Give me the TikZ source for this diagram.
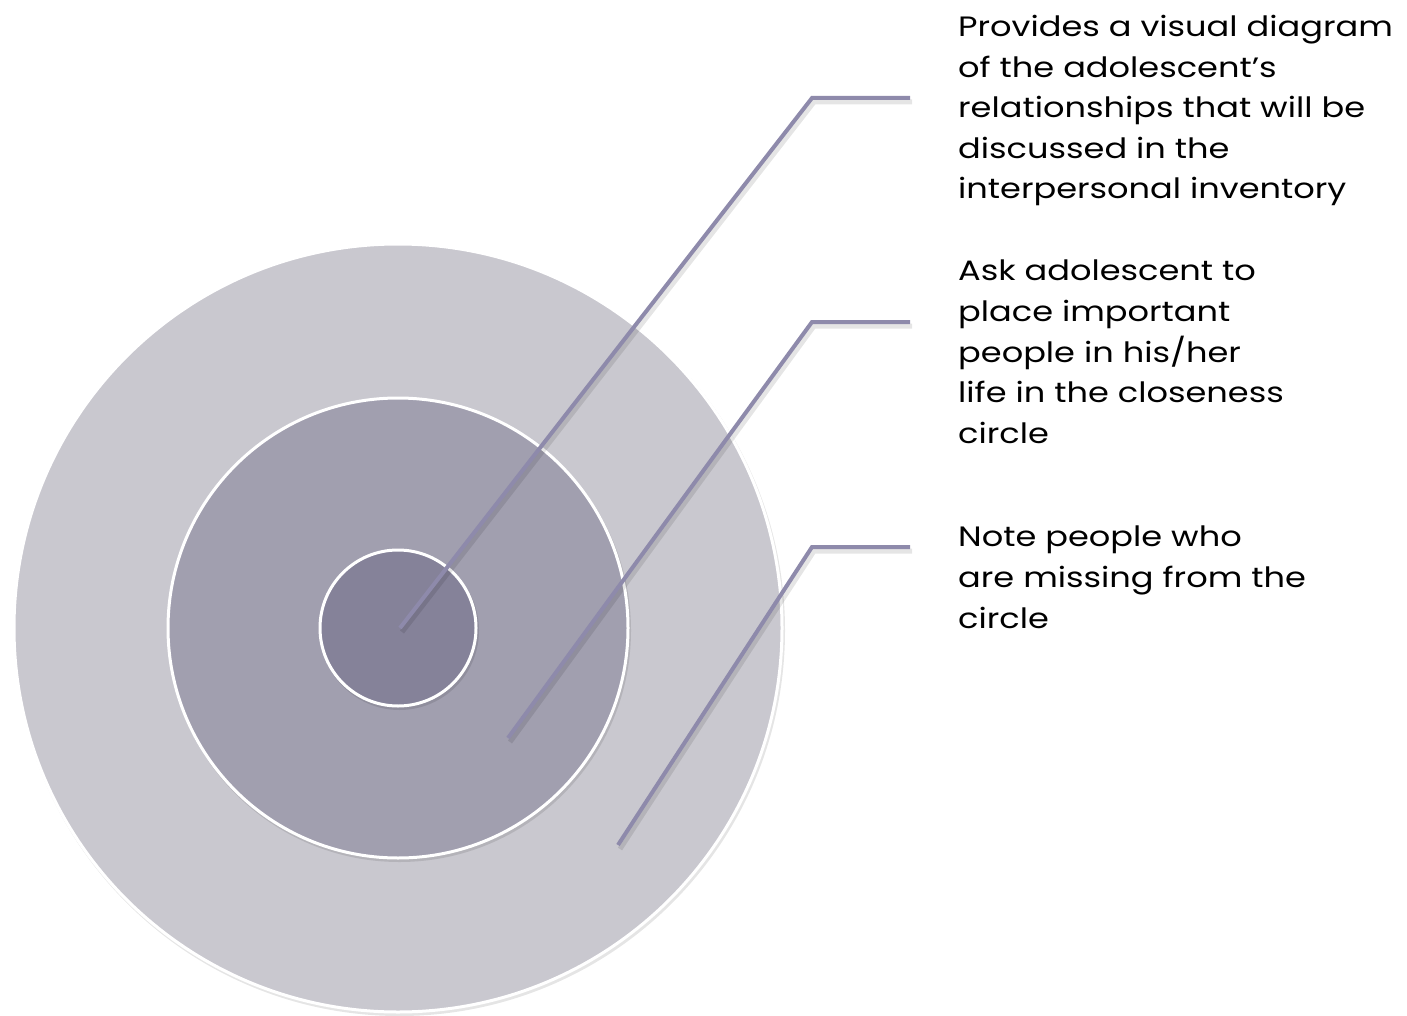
\documentclass[tikz,border=0pt]{standalone}
\usepackage{fontspec}
\setmainfont{Poppins}[FakeStretch=1.2]
\begin{document}
\begin{tikzpicture}[x=1pt,y=-1pt,
  ring/.style={circle, draw=white, line width=3pt, inner sep=0pt},
  ringshadow/.style={circle, fill=black, opacity=0.10, inner sep=0pt},
  leader/.style={draw=leadercol, line width=4pt, line cap=butt, line join=miter},
  leadershadow/.style={draw=black, opacity=0.10, line width=5pt},
  note/.style={anchor=north west, inner sep=0pt, align=left, font=\fontsize{28}{40.6}\selectfont, text=black}
]
\definecolor{outercol}{HTML}{C9C8CF}
\definecolor{midcol}{HTML}{A19FAF}
\definecolor{innercol}{HTML}{858299}
\definecolor{leadercol}{HTML}{8E8AAB}
\useasboundingbox (0,0) rectangle (1407,1016);
% shadows
\node[ringshadow, minimum size=771pt] at (399.5,630.5) {};
\node[ring, fill=outercol, minimum size=768pt] (outer) at (398,628) {};
\node[ringshadow, minimum size=463pt] at (399.5,630.5) {};
\node[ring, fill=midcol, minimum size=460pt] (mid) at (398,628) {};
\node[ringshadow, minimum size=159pt] at (399.5,630.5) {};
\node[ring, fill=innercol, minimum size=156pt] (inner) at (398,628) {};
% leader points
\coordinate (p1) at (400,628);
\coordinate (k1) at (812,98);
\coordinate (e1) at (910,98);
\coordinate (p2) at (508,738);
\coordinate (k2) at (812,322);
\coordinate (e2) at (910,322);
\coordinate (p3) at (618,845);
\coordinate (k3) at (812,547);
\coordinate (e3) at (910,547);
\foreach \i in {1,2,3}{
  \draw[leadershadow] ([shift={(2,4)}]p\i) -- ([shift={(2,4)}]k\i) -- ([shift={(2,4)}]e\i);
  \draw[leader] (p\i) -- (k\i) -- (e\i);
}
% texts
\node[note] (t1) at (958,15) {Provides a visual diagram\\of the adolescent’s\\relationships that will be\\discussed in the\\interpersonal inventory};
\node[note] (t2) at (958,260) {Ask adolescent to\\place important\\people in his/her\\life in the closeness\\circle};
\node[note] (t3) at (958,526) {Note people who\\are missing from the\\circle};
\end{tikzpicture}
\end{document}
